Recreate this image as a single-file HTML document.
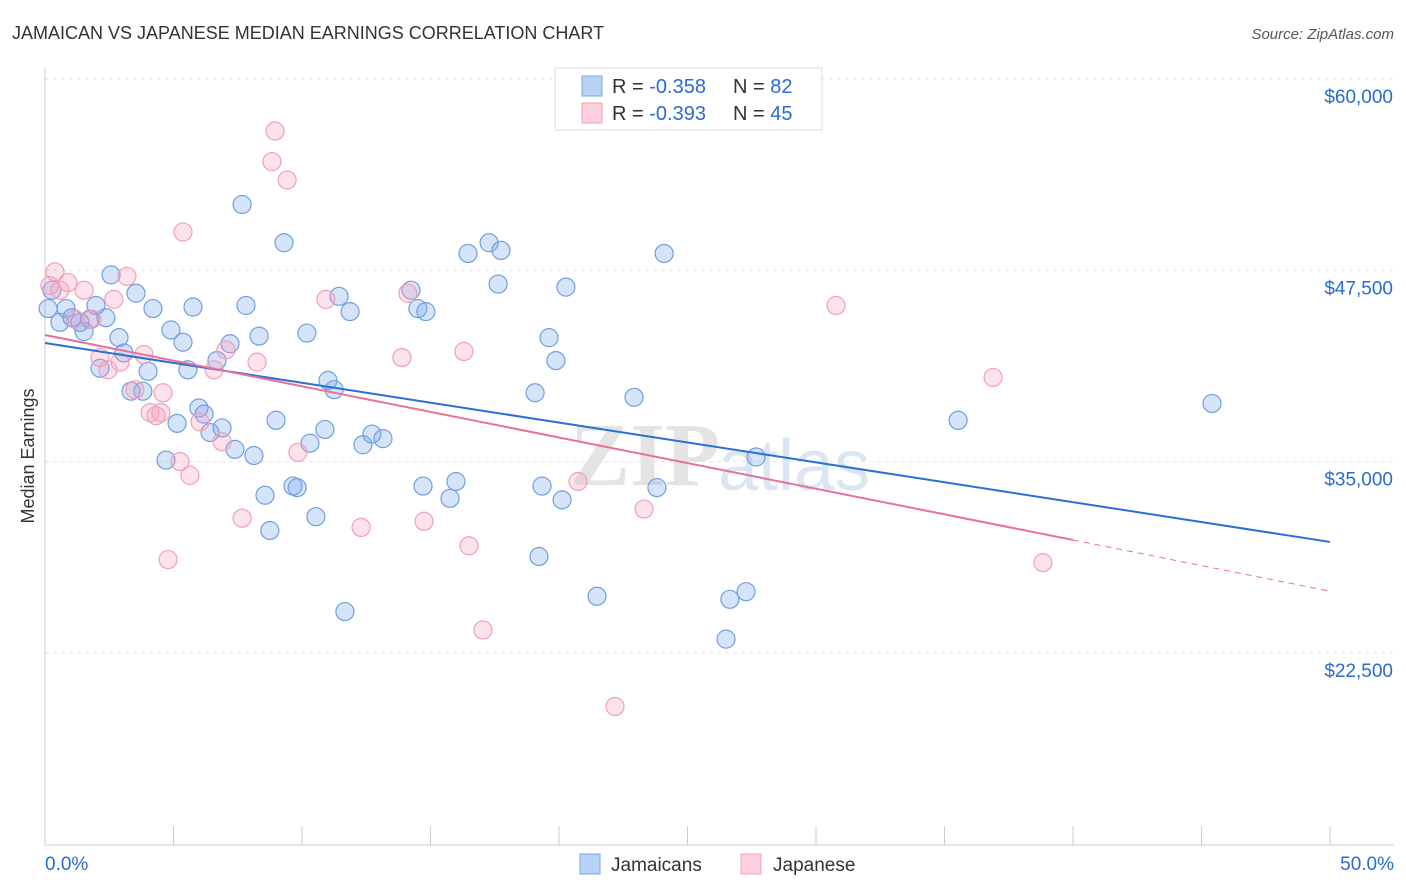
<!DOCTYPE html>
<html><head><meta charset="utf-8">
<style>
body{margin:0;background:#fff;font-family:"Liberation Sans",sans-serif;}
svg{display:block}
</style></head>
<body>
<svg id="chart" width="1406" height="892" viewBox="0 0 1406 892" xmlns="http://www.w3.org/2000/svg">
<text x="12" y="39" font-size="18" fill="#333">JAMAICAN VS JAPANESE MEDIAN EARNINGS CORRELATION CHART</text>
<text x="1394" y="39" font-size="15" fill="#555" font-style="italic" text-anchor="end">Source: ZipAtlas.com</text>
<text x="720" y="485" font-size="90" fill="#e4e4e4" text-anchor="end" font-family="Liberation Serif" font-weight="bold">ZIP</text>
<text x="718" y="490" font-size="72" fill="#dbe6f5">atlas</text>
<g id="grid"></g>
<g id="axes"></g>
<g id="pts"></g>
<g id="trends"></g>
<text transform="translate(34,456) rotate(-90)" font-size="18" fill="#333" text-anchor="middle">Median Earnings</text>
<g>
<rect x="555" y="68" width="267" height="62" fill="#fff" stroke="#ddd"/>
<rect x="582" y="76" width="20" height="20" fill="#b8d2f5" stroke="#7aa7e3"/>
<rect x="582" y="103" width="20" height="20" fill="#fbd0dc" stroke="#f0a0b8"/>
<text x="612" y="93" font-size="20" fill="#333">R = <tspan fill="#2a6bd1">-0.358</tspan></text>
<text x="733" y="93" font-size="20" fill="#333">N = <tspan fill="#2a6bd1">82</tspan></text>
<text x="612" y="120" font-size="20" fill="#333">R = <tspan fill="#2a6bd1">-0.393</tspan></text>
<text x="733" y="120" font-size="20" fill="#333">N = <tspan fill="#2a6bd1">45</tspan></text>
</g>
<g>
<rect x="580" y="854" width="20" height="20" fill="#b8d2f5" stroke="#7aa7e3"/>
<text x="611" y="871" font-size="19" fill="#333">Jamaicans</text>
<rect x="741" y="854" width="20" height="20" fill="#fbd0dc" stroke="#f0a0b8"/>
<text x="773" y="871" font-size="19" fill="#333">Japanese</text>
</g>
</svg>
<script>
const yTicks=[60000,47500,35000,22500];
const yTickLabels=["$60,000","$47,500","$35,000","$22,500"];
const xTickVals=[0,5,10,15,20,25,30,35,40,45,50];
const blueX=[0.27,0.12,0.58,0.82,1.05,1.36,1.52,1.75,1.98,2.14,2.37,2.57,2.88,3.07,3.35,3.54,3.81,4.01,4.20,4.71,4.90,5.14,5.37,5.56,5.76,5.99,6.19,6.42,6.69,6.89,7.20,7.39,7.67,7.82,8.13,8.33,8.56,8.75,8.99,9.30,9.65,9.81,10.19,10.31,10.54,10.89,11.01,11.25,11.44,11.67,11.87,12.37,12.72,13.15,14.24,14.51,14.71,14.82,15.76,15.99,16.46,17.28,17.63,17.74,19.07,19.22,19.34,19.61,19.88,20.12,20.27,21.48,22.92,23.81,24.09,26.50,26.65,27.28,27.67,35.53,45.41];
const blueY=[46.2,45.0,44.1,45.0,44.4,44.1,43.5,44.3,45.2,41.1,44.4,47.2,43.1,42.1,39.6,46.0,39.6,40.9,45.0,35.1,43.6,37.5,42.8,41.0,45.1,38.5,38.1,36.9,41.6,37.2,42.7,35.8,51.8,45.2,35.4,43.2,32.8,30.5,37.7,49.3,33.4,33.3,43.4,36.2,31.4,37.1,40.3,39.7,45.8,25.2,44.8,36.1,36.8,36.5,46.2,45.0,33.4,44.8,32.6,33.7,48.6,49.3,46.6,48.8,39.5,28.8,33.4,43.1,41.6,32.5,46.4,26.2,39.2,33.3,48.6,23.4,26.0,26.5,35.3,37.7,38.8];
const pinkX=[0.19,0.39,0.58,0.89,1.17,1.52,1.83,2.14,2.45,2.68,2.92,3.19,3.50,3.85,4.09,4.32,4.51,4.59,4.79,5.25,5.37,5.64,6.03,6.58,6.89,7.04,7.67,8.25,8.83,8.95,9.42,9.84,10.93,12.30,13.89,14.12,14.75,16.30,16.50,17.04,20.74,22.18,23.31,30.78,36.89,38.83];
const pinkY=[46.5,47.4,46.2,46.7,44.3,46.2,44.3,41.8,41.0,45.6,41.5,47.1,39.7,42.0,38.2,38.0,38.2,39.5,28.6,35.0,50.0,34.1,37.6,41.0,36.3,42.3,31.3,41.5,54.6,56.6,53.4,35.6,45.6,30.7,41.8,46.0,31.1,42.2,29.5,24.0,33.7,19.0,31.9,45.2,40.5,28.4];
const blueTrend=[42.75,29.75];
const pinkTrend=[43.27,29.88,26.53];
const NS="http://www.w3.org/2000/svg";
function X(v){return 45+v/50*1285;}
function Y(v){return 79+(60000-v)/12500*191.3;}
function mk(t,a,p){const e=document.createElementNS(NS,t);for(const k in a)e.setAttribute(k,a[k]);p.appendChild(e);return e;}
const grid=document.getElementById('grid'),axes=document.getElementById('axes'),pts=document.getElementById('pts'),tr=document.getElementById('trends');
yTicks.forEach((v,i)=>{
 const l=mk('line',{x1:45,x2:1394,y1:Y(v),y2:Y(v),stroke:'#e2e2e2','stroke-dasharray':'4,4'},grid);
 
 
 const t=mk('text',{x:1393,y:Y(v)+24,'font-size':19,fill:'#2a6bd1','text-anchor':'end'},axes);
 t.textContent=yTickLabels[i];
 
 
});
const ax=mk('line',{x1:45,x2:1394,y1:845,y2:845,stroke:'#ccc'},axes);


const ay=mk('line',{x1:45,x2:45,y1:68,y2:845,stroke:'#ccc'},axes);


xTickVals.forEach(v=>{
 const l=mk('line',{x1:X(v),x2:X(v),y1:826,y2:845,stroke:'#ccc'},axes);
 
 
});
const x0=mk('text',{x:45,y:870,'font-size':19,fill:'#2a6bd1'},axes);x0.textContent='0.0%';


const x1=mk('text',{x:1394,y:870,'font-size':19,fill:'#2a6bd1','text-anchor':'end'},axes);x1.textContent='50.0%';


blueX.forEach((v,i)=>{
 const c=mk('circle',{cx:X(v),cy:Y(blueY[i]*1000),r:9,fill:'rgba(120,165,235,0.3)',stroke:'#6e9fe2','stroke-width':1.2},pts);
 
 
});
pinkX.forEach((v,i)=>{
 const c=mk('circle',{cx:X(v),cy:Y(pinkY[i]*1000),r:9,fill:'rgba(245,160,190,0.3)',stroke:'#f0a0b8','stroke-width':1.2},pts);
 
 
});
const bl=mk('line',{x1:X(0),y1:Y(blueTrend[0]*1000),x2:X(50),y2:Y(blueTrend[1]*1000),stroke:'#2a6fd6','stroke-width':2},tr);


const pl=mk('line',{x1:X(0),y1:Y(pinkTrend[0]*1000),x2:X(40),y2:Y(pinkTrend[1]*1000),stroke:'#e8709a','stroke-width':2},tr);


const pd=mk('line',{x1:X(40),y1:Y(pinkTrend[1]*1000),x2:X(50),y2:Y(pinkTrend[2]*1000),stroke:'#e8709a','stroke-width':1,'stroke-dasharray':'6,5'},tr);


</script>
</body></html>
